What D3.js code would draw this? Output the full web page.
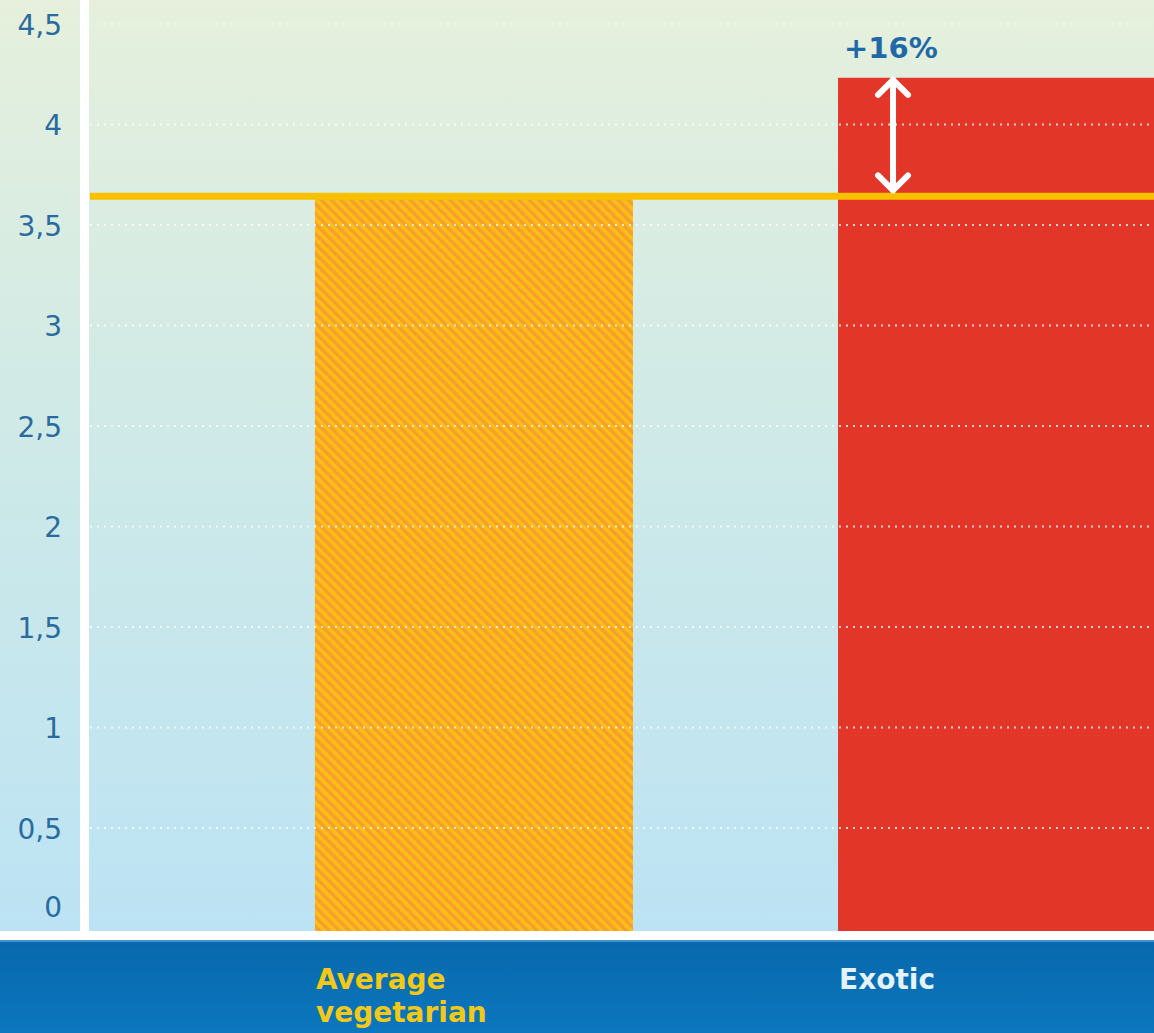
<!DOCTYPE html>
<html>
<head>
<meta charset="utf-8">
<script src="https://cdn.jsdelivr.net/npm/d3@7"></script>
<style>
  html, body { margin: 0; padding: 0; background: #ffffff; }
  svg { display: block; }
</style>
</head>
<body>
<svg id="chart" width="1154" height="1033"></svg>
<script>
// Emissions per diet, two categories on a shared value axis
const categories = ["Average vegetarian", "Exotic"];
const categoryLines = [["Average", "vegetarian"], ["Exotic"]];
const values = [3.64, 4.23];
const yTicks = [0, 0.5, 1, 1.5, 2, 2.5, 3, 3.5, 4, 4.5];

const W = 1154, H = 1033;
const plotLeft = 90, plotBottom = 928;
const svg = d3.select("#chart");
const defs = svg.append("defs");

// Soft green-to-blue backdrop
const bg = defs.append("linearGradient").attr("id", "bgGrad")
  .attr("x1", 0).attr("y1", 0).attr("x2", 0).attr("y2", 1);
bg.append("stop").attr("offset", "0%").attr("stop-color", "#e6f0dc");
bg.append("stop").attr("offset", "50%").attr("stop-color", "#cde9e8");
bg.append("stop").attr("offset", "100%").attr("stop-color", "#bce3f4");

// Diagonal orange/yellow stripes for the reference bar
const hatch = defs.append("pattern").attr("id", "hatch")
  .attr("patternUnits", "userSpaceOnUse")
  .attr("width", 7).attr("height", 7)
  .attr("patternTransform", "rotate(-45)");
hatch.append("rect").attr("width", 7).attr("height", 7).attr("fill", "#fdbf14");
hatch.append("rect").attr("width", 3.5).attr("height", 7).attr("fill", "#f69f2e");

const bandGrad = defs.append("linearGradient").attr("id", "bandGrad")
  .attr("x1", 0).attr("y1", 0).attr("x2", 0).attr("y2", 1);
bandGrad.append("stop").attr("offset", "0%").attr("stop-color", "#0868ad");
bandGrad.append("stop").attr("offset", "100%").attr("stop-color", "#0b77be");

svg.append("rect").attr("x", 0).attr("y", 0).attr("width", W).attr("height", 931)
  .attr("fill", "url(#bgGrad)");

// Scales
const y = d3.scaleLinear().domain([0, 4.5]).range([plotBottom, plotBottom - 4.5 * 201]);
const x = d3.scaleBand().domain(categories)
  .range([plotLeft, 1381]).paddingInner(0.392).paddingOuter(0.43);

// White axis frame
svg.append("rect").attr("x", 80).attr("y", 0).attr("width", 9).attr("height", 940).attr("fill", "#ffffff");
svg.append("rect").attr("x", 0).attr("y", 931).attr("width", W).attr("height", 9).attr("fill", "#ffffff");

// Bottom category band
svg.append("rect").attr("x", 0).attr("y", 940).attr("width", W).attr("height", H - 940)
  .attr("fill", "url(#bandGrad)");
svg.append("rect").attr("x", 0).attr("y", 940).attr("width", W).attr("height", 2)
  .attr("fill", "#5aa6d6").attr("opacity", 0.7);

// Bars
svg.selectAll("rect.bar").data(categories).enter().append("rect")
  .attr("class", "bar")
  .attr("x", d => x(d))
  .attr("width", x.bandwidth())
  .attr("y", (d, i) => y(values[i]))
  .attr("height", (d, i) => y(0) - y(values[i]) + 3)
  .attr("fill", (d, i) => i === 0 ? "url(#hatch)" : "#e23628");

// Dotted gridlines drawn over the bars
const grid = svg.append("g").attr("class", "grid")
  .attr("transform", `translate(${plotLeft},0)`)
  .call(d3.axisLeft(y).tickValues(yTicks.filter(t => t > 0)).tickSize(-(W - plotLeft)).tickFormat(""));
grid.select(".domain").remove();
grid.selectAll(".tick line")
  .attr("stroke", "#ffffff")
  .attr("stroke-width", 2)
  .attr("stroke-dasharray", "2,5")
  .attr("opacity", d => d === 4.5 ? 0.35 : 0.75);

// Reference level line at the average value
svg.append("line")
  .attr("x1", plotLeft).attr("x2", W)
  .attr("y1", y(values[0])).attr("y2", y(values[0]))
  .attr("stroke", "#f9c000").attr("stroke-width", 7);

// Y axis labels
const yAxis = svg.append("g")
  .attr("transform", "translate(62,0)")
  .call(d3.axisLeft(y).tickValues(yTicks).tickSize(0).tickPadding(0)
    .tickFormat(d => String(d).replace(".", ",")));
yAxis.select(".domain").remove();
yAxis.selectAll("text")
  .attr("font-family", "Verdana, 'DejaVu Sans', sans-serif")
  .attr("font-size", 28)
  .attr("fill", "#2a6b9f")
  .attr("dy", d => d === 0 ? "-0.42em" : "0.38em");

// Double-headed arrow showing the increase
const ax = x("Exotic") + 55;
const aTop = y(values[1]) + 2;
const aBot = y(values[0]) - 6;
const arrow = svg.append("g").attr("fill", "none").attr("stroke", "#ffffff")
  .attr("stroke-width", 6).attr("stroke-linecap", "round").attr("stroke-linejoin", "round");
arrow.append("line").attr("x1", ax).attr("x2", ax).attr("y1", aTop).attr("y2", aBot);
arrow.append("polyline").attr("points", `${ax - 15},${aTop + 15} ${ax},${aTop} ${ax + 15},${aTop + 15}`);
arrow.append("polyline").attr("points", `${ax - 15},${aBot - 15} ${ax},${aBot} ${ax + 15},${aBot - 15}`);

// Percentage increase label
const pct = Math.round((values[1] / values[0] - 1) * 100);
svg.append("text")
  .attr("x", x("Exotic") + 6).attr("y", 58)
  .attr("font-family", "Verdana, 'DejaVu Sans', sans-serif")
  .attr("font-weight", "bold").attr("font-size", 29)
  .attr("fill", "#1f69a6")
  .text(`+${pct}%`);

// Category labels in the bottom band
const catColors = ["#f3c816", "#e4f2fa"];
categories.forEach((c, i) => {
  const t = svg.append("text")
    .attr("x", x(c) + 1).attr("y", 989)
    .attr("font-family", "Verdana, 'DejaVu Sans', sans-serif")
    .attr("font-weight", "bold").attr("font-size", 28)
    .attr("fill", catColors[i]);
  categoryLines[i].forEach((line, j) => {
    t.append("tspan").attr("x", x(c) + 1).attr("dy", j === 0 ? 0 : 33).text(line);
  });
});
</script>
</body>
</html>
